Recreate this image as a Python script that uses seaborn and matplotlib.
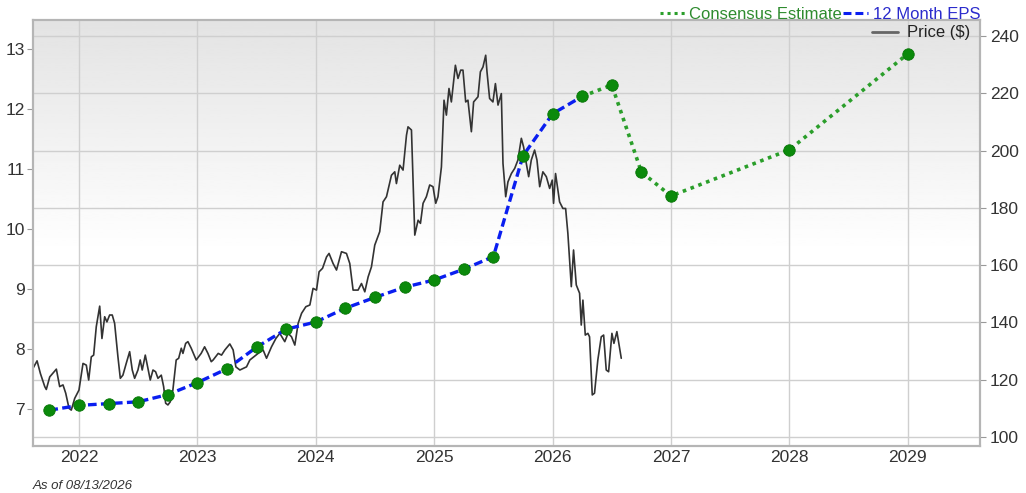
import numpy as np
import pandas as pd
import matplotlib
matplotlib.use("Agg")
import matplotlib.pyplot as plt
from matplotlib.lines import Line2D
import seaborn as sns

# price, weekly-ish readings (decimal year, $)
price_dates = [
    2021.612, 2021.646, 2021.674, 2021.711, 2021.724, 2021.753, 2021.809, 2021.837, 2021.865, 2021.888,
    2021.916, 2021.935, 2021.964, 2022.000, 2022.034, 2022.062, 2022.082, 2022.104, 2022.124, 2022.146,
    2022.175, 2022.194, 2022.217, 2022.236, 2022.259, 2022.281, 2022.301, 2022.329, 2022.349, 2022.371,
    2022.399, 2022.428, 2022.450, 2022.470, 2022.498, 2022.517, 2022.534, 2022.560, 2022.582, 2022.602,
    2022.625, 2022.647, 2022.667, 2022.695, 2022.715, 2022.732, 2022.751, 2022.771, 2022.793, 2022.821,
    2022.842, 2022.864, 2022.878, 2022.901, 2022.920, 2022.948, 2022.990, 2023.032, 2023.061, 2023.089,
    2023.117, 2023.133, 2023.176, 2023.204, 2023.232, 2023.274, 2023.302, 2023.325, 2023.359, 2023.415,
    2023.443, 2023.513, 2023.555, 2023.584, 2023.626, 2023.663, 2023.696, 2023.738, 2023.766, 2023.795,
    2023.823, 2023.851, 2023.880, 2023.916, 2023.950, 2023.977, 2024.006, 2024.028, 2024.057, 2024.091,
    2024.112, 2024.146, 2024.175, 2024.217, 2024.259, 2024.287, 2024.315, 2024.357, 2024.386, 2024.414,
    2024.442, 2024.470, 2024.498, 2024.540, 2024.568, 2024.597, 2024.639, 2024.667, 2024.681, 2024.709,
    2024.737, 2024.766, 2024.779, 2024.808, 2024.836, 2024.864, 2024.884, 2024.906, 2024.934, 2024.962,
    2024.990, 2025.013, 2025.032, 2025.061, 2025.083, 2025.103, 2025.125, 2025.145, 2025.179, 2025.201,
    2025.224, 2025.243, 2025.266, 2025.285, 2025.314, 2025.333, 2025.370, 2025.390, 2025.412, 2025.435,
    2025.446, 2025.468, 2025.496, 2025.517, 2025.539, 2025.567, 2025.581, 2025.604, 2025.623, 2025.652,
    2025.680, 2025.707, 2025.736, 2025.755, 2025.778, 2025.798, 2025.820, 2025.848, 2025.868, 2025.891,
    2025.918, 2025.947, 2025.975, 2025.997, 2026.008, 2026.025, 2026.059, 2026.087, 2026.110, 2026.129,
    2026.158, 2026.177, 2026.200, 2026.228, 2026.242, 2026.256, 2026.276, 2026.298, 2026.312, 2026.335,
    2026.354, 2026.382, 2026.411, 2026.431, 2026.453, 2026.473, 2026.501, 2026.518, 2026.543, 2026.580,
]
price_values = [
    124.0, 126.6, 122.2, 117.6, 116.6, 121.0, 123.7, 117.6, 118.2, 115.3,
    110.0, 109.4, 113.5, 116.4, 125.7, 125.1, 119.9, 128.0, 128.6, 138.5,
    145.7, 134.4, 142.0, 140.2, 142.6, 142.6, 139.7, 128.0, 120.5, 121.6,
    125.7, 129.8, 123.4, 120.5, 123.4, 126.9, 123.4, 128.6, 124.0, 119.9,
    123.4, 122.8, 120.5, 121.6, 117.6, 111.8, 111.2, 112.3, 116.4, 126.9,
    127.5, 131.0, 129.2, 132.7, 133.3, 131.0, 126.9, 129.2, 131.5, 129.2,
    126.3, 126.9, 129.2, 128.6, 130.4, 132.5, 130.4, 124.5, 123.4, 124.5,
    126.9, 129.2, 130.4, 127.5, 131.5, 134.4, 136.2, 133.3, 136.2, 135.0,
    132.1, 139.7, 143.2, 145.5, 146.1, 151.9, 151.3, 157.7, 158.9, 162.9,
    164.1, 160.6, 158.3, 164.7, 164.1, 160.6, 151.3, 151.3, 153.6, 150.7,
    155.9, 159.4, 167.0, 171.7, 182.1, 183.9, 191.4, 192.6, 188.5, 194.9,
    193.2, 205.4, 208.3, 207.2, 170.5, 175.7, 174.6, 181.6, 183.9, 188.0,
    187.4, 181.6, 183.9, 194.3, 217.6, 212.4, 221.7, 217.0, 229.8, 225.2,
    228.1, 228.1, 217.0, 217.6, 206.6, 217.0, 218.8, 227.5, 229.2, 233.3,
    227.5, 218.2, 217.0, 223.4, 215.9, 219.9, 195.5, 183.9, 189.1, 192.0,
    193.8, 196.7, 204.3, 201.3, 195.5, 190.9, 196.7, 200.2, 196.7, 187.4,
    192.6, 190.9, 186.8, 189.7, 181.6, 192.0, 182.1, 179.8, 179.8, 171.1,
    152.5, 165.3, 153.1, 150.2, 139.1, 147.8, 135.6, 136.2, 135.0, 114.7,
    115.3, 126.9, 135.0, 135.6, 123.4, 122.8, 136.2, 132.7, 136.8, 127.5,
]

# 12 month EPS, quarterly
eps_dates = [2021.75, 2022.0, 2022.25, 2022.5, 2022.75, 2023.0, 2023.25, 2023.5, 2023.75, 2024.0,
             2024.25, 2024.5, 2024.75, 2025.0, 2025.25, 2025.5, 2025.75, 2026.0, 2026.25]
eps_values = [6.98, 7.06, 7.09, 7.12, 7.24, 7.44, 7.67, 8.03, 8.33, 8.45,
              8.68, 8.86, 9.03, 9.15, 9.33, 9.54, 11.22, 11.92, 12.21]

# consensus estimate
est_dates = [2026.25, 2026.5, 2026.75, 2027.0, 2028.0, 2029.0]
est_values = [12.21, 12.40, 10.95, 10.55, 11.32, 12.92]

years = [2022, 2023, 2024, 2025, 2026, 2027, 2028, 2029]
price_ticks = [100, 120, 140, 160, 180, 200, 220, 240]
eps_ticks = [7, 8, 9, 10, 11, 12, 13]

sns.set_theme(style="white")
plt.rcParams["font.family"] = ["Liberation Sans", "DejaVu Sans"]

fig = plt.figure(figsize=(10.26, 4.93), dpi=100)
ax = fig.add_axes([0.0322, 0.0953, 0.9230, 0.8641])
ax2 = ax.twinx()

# background gradient
grad = np.ones((200, 1))
n = 110
grad[:n, 0] = np.linspace(0.89, 1.0, n)
ax.imshow(grad, cmap="gray", vmin=0, vmax=1, aspect="auto",
          extent=[0, 1, 0, 1], transform=ax.transAxes, zorder=0)

price_df = pd.DataFrame({"date": price_dates, "price": price_values})
sns.lineplot(data=price_df, x="date", y="price", ax=ax, color="#333333", lw=1.2, zorder=3)

est_df = pd.DataFrame({"date": est_dates, "eps": est_values})
eps_df = pd.DataFrame({"date": eps_dates, "eps": eps_values})
sns.lineplot(data=est_df, x="date", y="eps", ax=ax2, color="#2a9e2a", lw=2.6, zorder=3)
ax2.lines[-1].set_linestyle((0, (1, 1.3)))
sns.lineplot(data=eps_df, x="date", y="eps", ax=ax2, color="#0a1ef0", lw=2.4, zorder=4)
ax2.lines[-1].set_linestyle((0, (2.6, 1.3)))
sns.scatterplot(data=pd.concat([eps_df, est_df.iloc[1:]]), x="date", y="eps", ax=ax2,
                color="#0b8a0b", s=68, edgecolor="#077507", linewidth=0.6, zorder=5)

ax.set_xlim(2021.612, 2029.61)
ax.set_ylim(96.86, 245.6)
ax2.set_ylim(6.383, 13.483)

ax.set_xticks(years)
ax.set_xticklabels([str(y) for y in years])
ax.set_yticks(price_ticks)
ax2.set_yticks(eps_ticks)
ax.grid(True, color="#cfcfcf", lw=1.0)
ax.set_axisbelow(False)
for gl in ax.get_xgridlines() + ax.get_ygridlines():
    gl.set_zorder(1)

# price axis on the right, eps axis on the left
ax.yaxis.tick_right()
ax2.yaxis.tick_left()
ax.set_xlabel("")
ax.set_ylabel("")
ax2.set_ylabel("")

ax.tick_params(axis="x", length=0, pad=3, labelsize=12.5, labelcolor="#333333")
ax.tick_params(axis="y", length=4, width=0.8, color="#999999", pad=3,
               labelsize=12.5, labelcolor="#333333", right=True, left=False)
ax2.tick_params(axis="y", length=4, width=0.8, color="#999999", pad=2,
                labelsize=12.5, labelcolor="#333333", left=True, right=False)
for a in (ax, ax2):
    for sp in a.spines.values():
        sp.set_color("#b5b5b5")
        sp.set_linewidth(1.5)

# legends
top_handles = [
    Line2D([], [], color="#2a9e2a", lw=2.2, linestyle=(0, (1, 1.3))),
    Line2D([], [], color="#0a1ef0", lw=2.2, linestyle=(0, (2.6, 1.3))),
]
leg1 = ax2.legend(top_handles, ["Consensus Estimate", "12 Month EPS"], loc="lower right",
                  bbox_to_anchor=(1.0, 0.995), ncol=2, frameon=False, fontsize=12,
                  handlelength=1.5, handletextpad=0.25, columnspacing=0.1,
                  borderaxespad=0, borderpad=0, labelcolor=["#2e8b2e", "#2b2bcc"])
ax2.add_artist(leg1)
ax2.legend([Line2D([], [], color="#666666", lw=2)], ["Price ($)"], loc="upper right",
           bbox_to_anchor=(0.993, 0.995), frameon=False, fontsize=12,
           handlelength=1.6, handletextpad=0.5, borderaxespad=0, borderpad=0.2,
           labelcolor="#222222")

fig.text(0.0322, 0.008, "As of 08/13/2026", fontsize=9.5, style="italic", color="#333333")

fig.savefig("out.png", dpi=100)
